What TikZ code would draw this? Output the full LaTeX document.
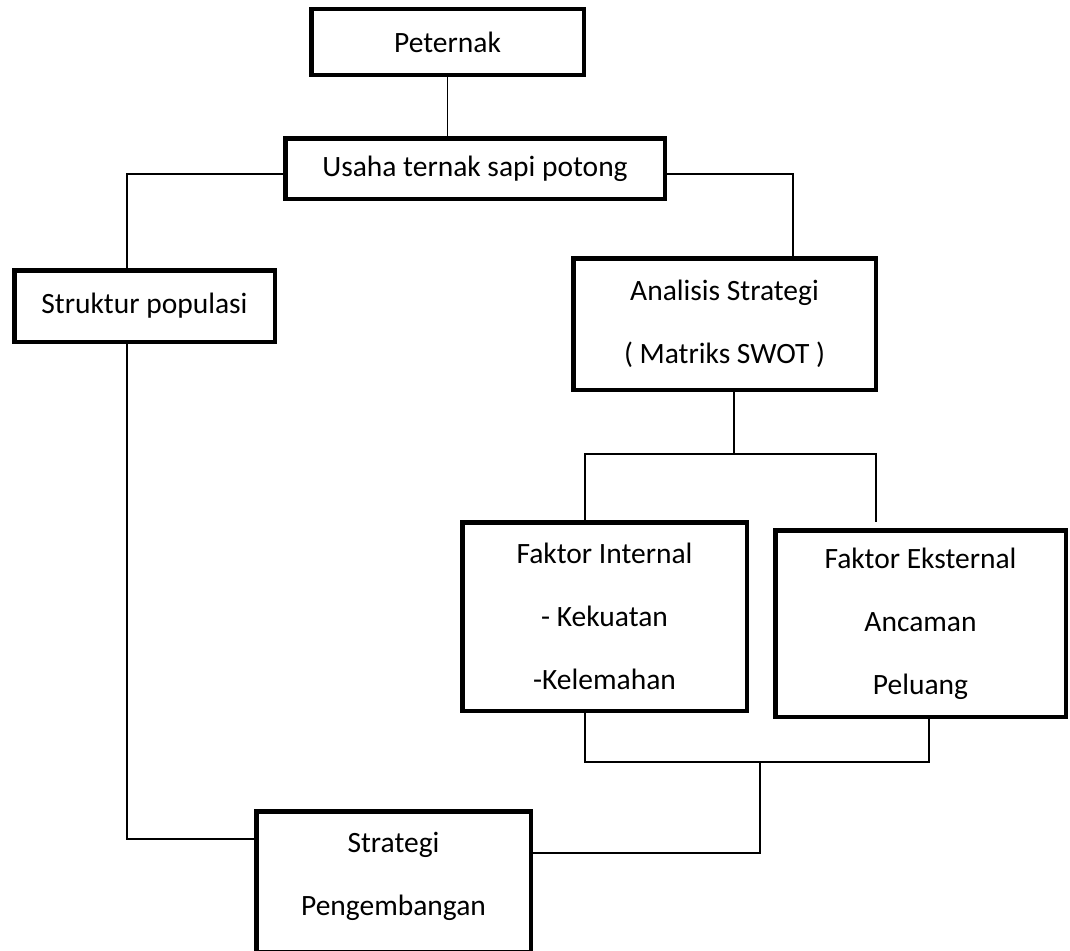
\documentclass[tikz,border=0pt]{standalone}
\usepackage{fontspec}
\setmainfont{Carlito}
\begin{document}
\begin{tikzpicture}[x=1pt,y=-1pt,
  box/.style={draw=black, line width=4.5pt, rectangle, inner sep=0pt, align=center,
    font=\fontsize{29.5}{63}\selectfont},
  conn/.style={draw=black, line width=1.5pt}]
\useasboundingbox (0,0) rectangle (1070,950);
\clip (0,0) rectangle (1070,950);
\fill[white] (0,0) rectangle (1070,950);

\node[box, minimum width=272.5pt, minimum height=65.5pt] (pet) at (447.5,42) {Peternak};
\node[box, minimum width=379.5pt, minimum height=60.5pt] (usaha) at (475,168.5) {Usaha ternak sapi potong};
\node[box, minimum width=260.5pt, minimum height=71.5pt] (struk) at (144.5,306) {Struktur populasi};
\node[box, minimum width=302.5pt, minimum height=131.5pt] (ana) at (724.5,324) {Analisis Strategi\\( Matriks SWOT )};
\node[box, minimum width=284.5pt, minimum height=188.5pt] (int) at (604.5,616.5) {Faktor Internal\\- Kekuatan\\-Kelemahan};
\node[box, minimum width=290.5pt, minimum height=186.5pt] (ext) at (920.5,623.5) {Faktor Eksternal\\Ancaman\\Peluang};
\node[box, minimum width=274.5pt, minimum height=140.5pt, text depth=16pt] (strat) at (393.5,881.5) {Strategi\\Pengembangan};

\coordinate (jr) at (876,454);
\coordinate (ebr) at (876,522);
\coordinate (jbr) at (929,762);
\coordinate (jm) at (760,762);

\draw[conn] (pet.south) -- (pet.south |- usaha.north);
\draw[conn] ([yshift=-5.5pt]usaha.west) -| ([xshift=-17.5pt]struk.north);
\draw[conn] ([yshift=-5.5pt]usaha.east) -| ([xshift=68.5pt]ana.north);
\draw[conn] ([xshift=9.5pt]ana.south) -- ([xshift=9.5pt]ana.south |- jr);
\draw[conn] ([xshift=-19.5pt]int.north) |- (jr) -- (ebr);
\draw[conn] ([xshift=-19.5pt]int.south) |- (jbr) -- ([xshift=8.5pt]ext.south);
\draw[conn] (jm) |- ([yshift=28.5pt]strat.east);
\draw[conn] ([xshift=-17.5pt]struk.south) |- ([yshift=42.5pt]strat.west);
\end{tikzpicture}
\end{document}
